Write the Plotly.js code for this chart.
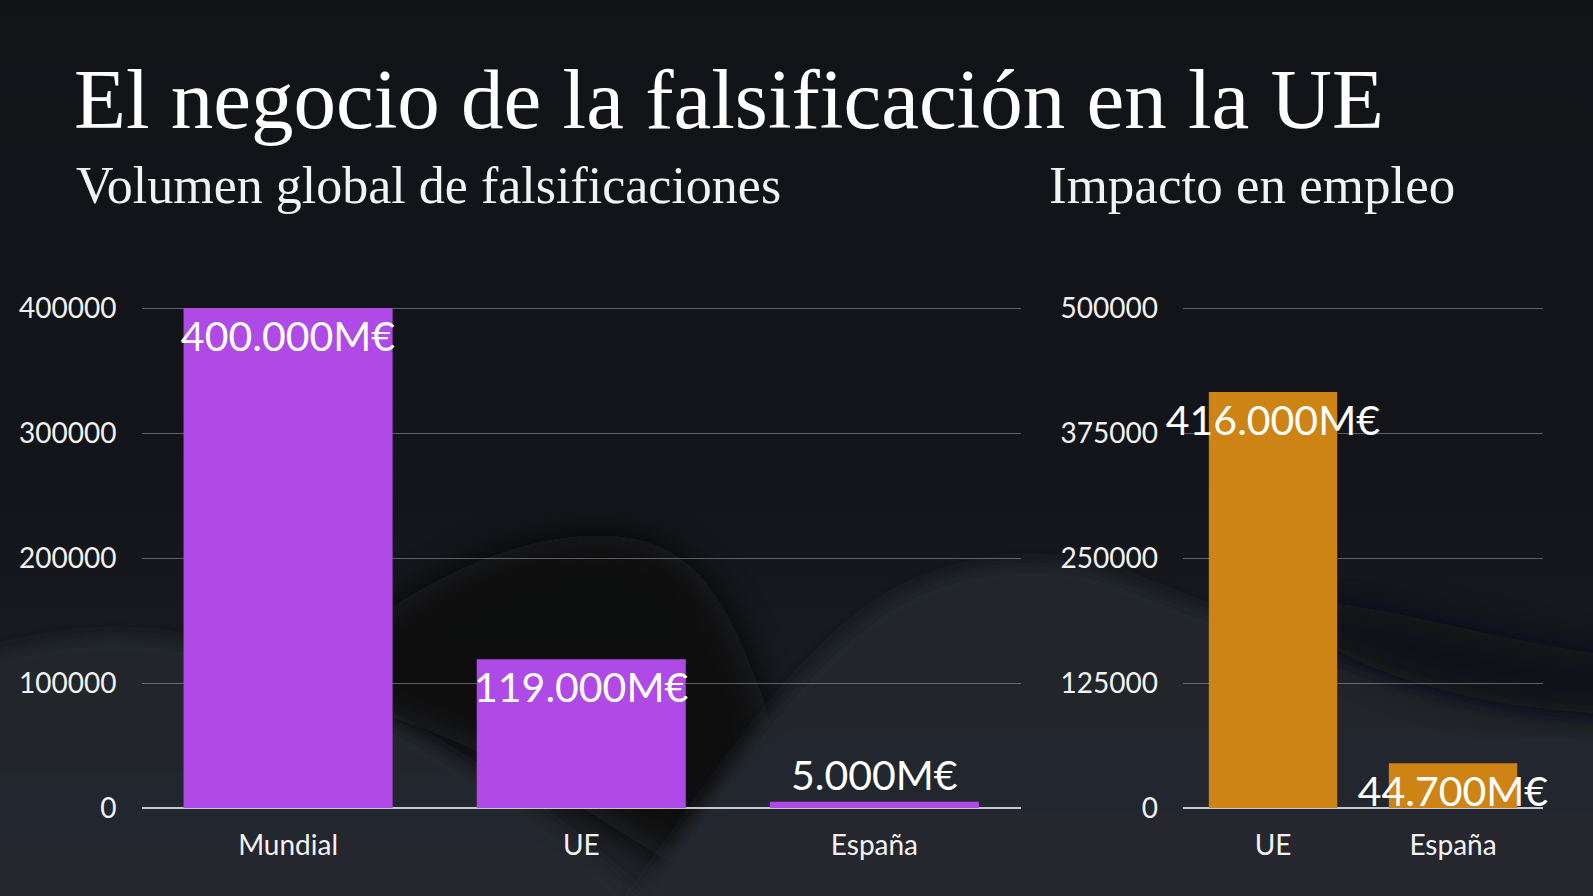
<!DOCTYPE html>
<html>
<head>
<meta charset="utf-8">
<script src="https://cdn.plot.ly/plotly-3.0.1.min.js"></script>
<style>
  html, body { margin: 0; padding: 0; background: #131419; }
  #bg { position: absolute; left: 0; top: 0; width: 1593px; height: 896px; }
  #chart { position: absolute; left: 0; top: 0; width: 1593px; height: 896px; }
</style>
</head>
<body>
<!-- soft wavy backdrop -->
<svg id="bg" width="1593" height="896" viewBox="0 0 1593 896">
  <defs>
    <linearGradient id="base" x1="0" y1="0" x2="0" y2="1">
      <stop offset="0" stop-color="#121317"/>
      <stop offset="0.55" stop-color="#14151a"/>
      <stop offset="0.85" stop-color="#1b1d22"/>
      <stop offset="1" stop-color="#23252b"/>
    </linearGradient>
    <linearGradient id="hill" x1="0" y1="0" x2="0" y2="1">
      <stop offset="0" stop-color="#23252b"/>
      <stop offset="1" stop-color="#25272e"/>
    </linearGradient>
    <filter id="soft" x="-10%" y="-10%" width="120%" height="120%">
      <feGaussianBlur stdDeviation="8"/>
    </filter>
    <filter id="softer" x="-20%" y="-20%" width="140%" height="140%">
      <feGaussianBlur stdDeviation="18"/>
    </filter>
  </defs>
  <rect width="1593" height="896" fill="url(#base)"/>
  <!-- dark wave -->
  <path filter="url(#softer)" fill="#0d0e11" opacity="0.9"
        d="M330,650 C430,575 520,532 610,536 C700,540 730,610 760,690 C790,770 760,850 700,880 C610,830 500,740 330,700 Z"/>
  <!-- left hill -->
  <path filter="url(#soft)" fill="url(#hill)"
        d="M-40,662 C40,640 100,630 170,640 C270,660 360,700 440,750 C520,800 600,850 680,940 L-40,940 Z"/>
  <!-- right hill -->
  <path filter="url(#soft)" fill="url(#hill)"
        d="M600,940 C680,850 780,660 900,595 C970,560 1050,552 1120,578 C1220,618 1300,645 1400,680 C1480,708 1550,716 1640,716 L1640,940 Z"/>
  <!-- dark band on the right -->
  <path filter="url(#softer)" fill="#0f1013" opacity="0.8"
        d="M1280,600 C1380,600 1480,640 1640,660 L1640,715 C1540,712 1460,700 1380,670 C1340,655 1300,630 1280,600 Z"/>
</svg>
<div id="chart"></div>
<script>
// Volumen global de falsificaciones (M€)
const volumeCategories = ['Mundial', 'UE', 'España'];
const volumeValues = [400000, 119000, 5000];
const volumeLabels = ['400.000M€', '119.000M€', '5.000M€'];

// Impacto en empleo
const jobsCategories = ['UE', 'España'];
const jobsValues = [416000, 44700];
const jobsLabels = ['416.000M€', '44.700M€'];

const volumeTicks = [0, 100000, 200000, 300000, 400000];
const jobsTicks = [0, 125000, 250000, 375000, 500000];

const sans = 'Lato, "Open Sans", sans-serif';
const serif = '"Liberation Serif", "DejaVu Serif", serif';

const volumeTrace = {
    type: 'bar',
    x: volumeCategories,
    y: volumeValues,
    text: volumeLabels,
    textposition: ['inside', 'inside', 'outside'],
    insidetextanchor: 'end',
    textangle: 0,
    constraintext: 'none',
    cliponaxis: false,
    textfont: { family: sans, size: 41, color: '#ffffff' },
    marker: { color: '#b04ae6' },
    hoverinfo: 'x+y',
    xaxis: 'x',
    yaxis: 'y'
};

const jobsTrace = {
    type: 'bar',
    x: jobsCategories,
    y: jobsValues,
    text: jobsLabels,
    textposition: 'inside',
    insidetextanchor: 'end',
    textangle: 0,
    constraintext: 'none',
    cliponaxis: false,
    textfont: { family: sans, size: 41, color: '#ffffff' },
    marker: { color: '#ce8415' },
    hoverinfo: 'x+y',
    xaxis: 'x2',
    yaxis: 'y2'
};

const W = 1593, H = 896;
// plot area: 0 at y=808px, top tick at y=308px; 5px headroom so the top grid line is kept
const yDomain = [88 / H, 593 / H];

const xCommon = {
    type: 'category',
    showgrid: false,
    showline: false,
    ticks: '',
    ticklabelstandoff: 18,
    tickfont: { family: sans, size: 28, color: '#f2f2f2' },
    fixedrange: true
};
const yCommon = {
    showgrid: true,
    gridcolor: 'rgba(255,255,255,0.32)',
    gridwidth: 1,
    zeroline: true,
    zerolinecolor: 'rgba(255,255,255,0.75)',
    zerolinewidth: 1.5,
    showline: false,
    ticks: '',
    ticklabelstandoff: 24,
    tickfont: { family: sans, size: 28, color: '#f2f2f2' },
    fixedrange: true
};

const layout = {
    width: W,
    height: H,
    margin: { l: 0, r: 0, t: 0, b: 0 },
    paper_bgcolor: 'rgba(0,0,0,0)',
    plot_bgcolor: 'rgba(0,0,0,0)',
    showlegend: false,
    bargap: 0.287,
    xaxis: Object.assign({}, xCommon, { domain: [141.5 / W, 1021 / W], anchor: 'y' }),
    yaxis: Object.assign({}, yCommon, {
        domain: yDomain, anchor: 'x', range: [0, 404000],
        tickvals: volumeTicks, ticktext: volumeTicks.map(String)
    }),
    xaxis2: Object.assign({}, xCommon, { domain: [1183 / W, 1543 / W], anchor: 'y2' }),
    yaxis2: Object.assign({}, yCommon, {
        domain: yDomain, anchor: 'x2', range: [0, 505000],
        tickvals: jobsTicks, ticktext: jobsTicks.map(String)
    }),
    annotations: [
        {
            text: 'El negocio de la falsificación en la UE',
            xref: 'paper', yref: 'paper', x: 72 / W, y: 1 - 99 / H,
            xanchor: 'left', yanchor: 'middle', showarrow: false,
            font: { family: serif, size: 85, color: '#ffffff' }
        },
        {
            text: 'Volumen global de falsificaciones',
            xref: 'paper', yref: 'paper', x: 74 / W, y: 1 - 185 / H,
            xanchor: 'left', yanchor: 'middle', showarrow: false,
            font: { family: serif, size: 52, color: '#f2f2f2' }
        },
        {
            text: 'Impacto en empleo',
            xref: 'paper', yref: 'paper', x: 1047 / W, y: 1 - 185 / H,
            xanchor: 'left', yanchor: 'middle', showarrow: false,
            font: { family: serif, size: 53, color: '#f2f2f2' }
        }
    ]
};

Plotly.newPlot('chart', [volumeTrace, jobsTrace], layout, {
    displayModeBar: false,
    responsive: false
});
</script>
</body>
</html>
